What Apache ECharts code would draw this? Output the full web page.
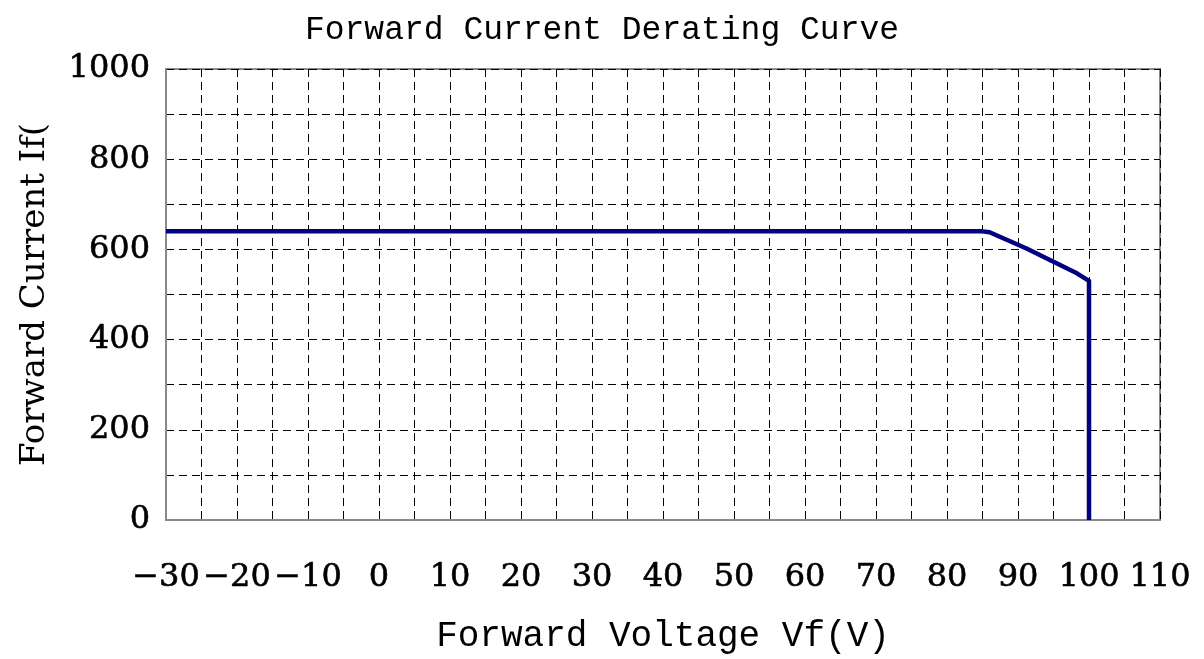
<!DOCTYPE html>
<html>
<head>
<meta charset="utf-8">
<script src="https://cdn.jsdelivr.net/npm/echarts@6/dist/echarts.min.js"></script>
<style>
  html, body { margin: 0; padding: 0; background: #fff; }
  #container { width: 1204px; height: 659px; }
</style>
</head>
<body>
<div id="container"></div>
<script>
var dom = document.getElementById("container");
var myChart = echarts.init(dom);

// data
var voltage = [-30, 85, 86, 91.2, 98.3, 100, 100];
var current = [640, 640, 638, 602, 547, 530, 0];
var xTicks = [-30, -20, -10, 0, 10, 20, 30, 40, 50, 60, 70, 80, 90, 100, 110];
var yTicks = [0, 200, 400, 600, 800, 1000];

var curve = [];
for (var i = 0; i < voltage.length; i++) {
    curve.push([voltage[i], current[i]]);
}

var serif = '"DejaVu Serif", serif';
var mono = '"Liberation Mono", monospace';

var option = {
    backgroundColor: '#fff',
    animation: false,
    title: {
        text: 'Forward Current Derating Curve',
        left: 'center',
        top: 9,
        textStyle: { fontFamily: mono, fontSize: 33, fontWeight: 'normal', color: '#000' }
    },
    grid: {
        left: 166, right: 44, top: 69, bottom: 135,
        show: true, borderColor: '#8a8a8a', borderWidth: 2
    },
    xAxis: {
        type: 'value',
        min: -30, max: 110, interval: 5,
        name: 'Forward Voltage Vf(V)',
        nameLocation: 'middle',
        nameGap: 116,
        nameTextStyle: { fontFamily: mono, fontSize: 36, color: '#000', verticalAlign: 'middle' },
        axisLine: { show: true, onZero: false, lineStyle: { color: '#8a8a8a', width: 2 } },
        axisTick: { show: false },
        axisLabel: {
            margin: 42,
            fontFamily: serif, fontSize: 32, color: '#000',
            textBorderColor: '#000', textBorderWidth: 0.6,
            formatter: function (v) {
                return xTicks.indexOf(v) >= 0 ? String(v).replace('-', '\u2212') : '';
            }
        },
        splitLine: { show: true, lineStyle: { color: '#000', width: 1, type: [8, 5] } }
    },
    yAxis: {
        type: 'value',
        min: 0, max: 1000, interval: 100,
        name: 'Forward Current If(',
        nameLocation: 'middle',
        nameGap: 131,
        nameTextStyle: { fontFamily: serif, fontSize: 34, color: '#000', verticalAlign: 'middle' },
        axisLine: { show: true, onZero: false, lineStyle: { color: '#8a8a8a', width: 2 } },
        axisTick: { show: false },
        axisLabel: {
            margin: 16,
            padding: [10, 0, 0, 0],
            fontFamily: serif, fontSize: 32, color: '#000',
            textBorderColor: '#000', textBorderWidth: 0.6,
            formatter: function (v) {
                return yTicks.indexOf(v) >= 0 ? String(v) : '';
            }
        },
        splitLine: { show: true, lineStyle: { color: '#000', width: 1, type: [8, 5] } }
    },
    series: [
        {
            name: 'If',
            type: 'line',
            data: curve,
            showSymbol: false,
            symbol: 'none',
            lineStyle: { color: '#000080', width: 4.5, join: 'round' }
        }
    ]
};
if (option && typeof option === "object") {
    myChart.setOption(option, true);
}
</script>
</body>
</html>
